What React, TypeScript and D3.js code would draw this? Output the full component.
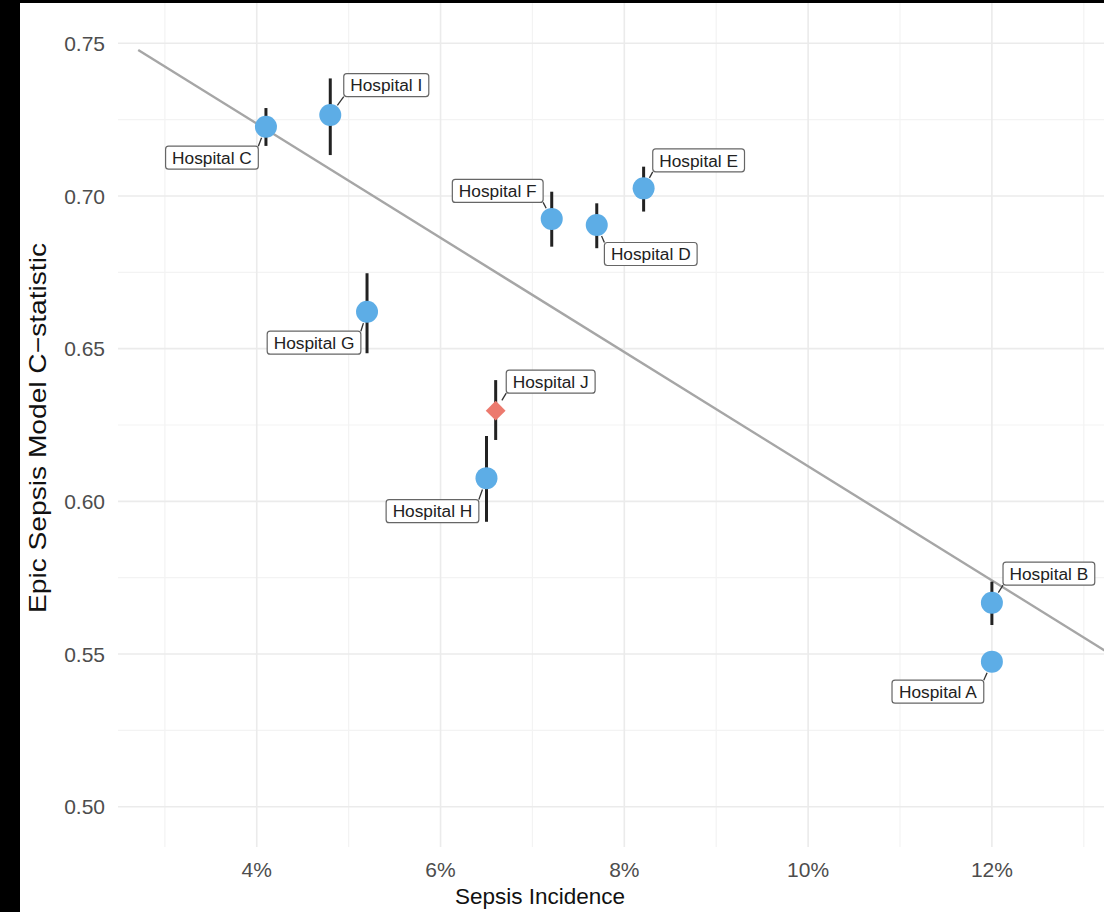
import React, { useMemo } from "react";
import * as d3 from "d3";

// ---- data ----
const hospitals = ["Hospital A", "Hospital B", "Hospital C", "Hospital D", "Hospital E", "Hospital F", "Hospital G", "Hospital H", "Hospital I", "Hospital J"];
const incidence = [12.0, 12.0, 4.1, 7.7, 8.21, 7.21, 5.2, 6.5, 4.8, 6.6];
const cstat = [0.5475, 0.5668, 0.7227, 0.6905, 0.7025, 0.6925, 0.6621, 0.6076, 0.7265, 0.6297];
const ciLow = [0.5445, 0.5595, 0.7164, 0.6829, 0.6949, 0.6834, 0.6485, 0.5933, 0.7134, 0.6201];
const ciHigh = [0.5505, 0.5737, 0.7288, 0.6976, 0.7096, 0.7014, 0.6747, 0.6214, 0.7385, 0.6397];
const highlighted = [false, false, false, false, false, false, false, false, false, true];

const xTicks = [4, 6, 8, 10, 12];
const xMinor = [3, 5, 7, 9, 11, 13];
const yTicks = [0.5, 0.55, 0.6, 0.65, 0.7, 0.75];
const yMinor = [0.525, 0.575, 0.625, 0.675, 0.725];

// fitted line: c = intercept + slope * incidence
const fitIntercept = 0.7985;
const fitSlope = -0.0187;
const fitRange = [2.71, 13.4];

// ---- layout (label box centre offsets in px from the point) ----
const labelDx = [-54, 57, -54, 54, 55, -54, -53, -54, 56, 55];
const labelDy = [30, -29, 31, 29, -28, -28, 31, 33, -30, -29];

const W = 1104;
const H = 912;
const panel = { left: 118, right: 1104, top: 3, bottom: 847 };
const xDomain = [2.49, 13.22];
const yDomain = [0.4868, 0.7632];

const LABEL_FONT = 17.3;
const FONT = "'Liberation Sans', Arial, Helvetica, sans-serif";

function measure(text: string, size: number) {
  if (typeof document === "undefined") return text.length * size * 0.5;
  const c = document.createElement("canvas").getContext("2d");
  if (!c) return text.length * size * 0.5;
  c.font = `${size}px ${FONT}`;
  return c.measureText(text).width;
}

export default function App() {
  const x = d3.scaleLinear().domain(xDomain).range([panel.left, panel.right]);
  const y = d3.scaleLinear().domain(yDomain).range([panel.bottom, panel.top]);
  const fmtY = d3.format(".2f");

  const labels = useMemo(
    () =>
      hospitals.map((h, i) => {
        const w = measure(h, LABEL_FONT) + 13;
        const hgt = 23;
        const px = x(incidence[i]);
        const py = y(cstat[i]);
        const cx = px + labelDx[i];
        const cy = py + labelDy[i];
        const bx0 = cx - w / 2,
          bx1 = cx + w / 2,
          by0 = cy - hgt / 2,
          by1 = cy + hgt / 2;
        const nx = Math.max(bx0, Math.min(px, bx1));
        const ny = Math.max(by0, Math.min(py, by1));
        const dx = nx - px,
          dy = ny - py;
        const dist = Math.sqrt(dx * dx + dy * dy);
        const r0 = 12;
        const seg =
          dist > r0
            ? { x1: px + (dx / dist) * r0, y1: py + (dy / dist) * r0, x2: nx, y2: ny }
            : null;
        return { h, w, hgt, cx, cy, seg };
      }),
    []
  );

  const linePath = d3
    .line<number>()
    .x((d) => x(d))
    .y((d) => y(fitIntercept + fitSlope * d))(fitRange);

  const diamond = d3.symbol().type(d3.symbolDiamond2).size(250)();

  return (
    <svg
      width={W}
      height={H}
      style={{ position: "absolute", left: 0, top: 0, background: "#fff" }}
      fontFamily={FONT}
    >
      <rect x={0} y={0} width={W} height={H} fill="#ffffff" />
      {/* grid */}
      {yMinor.map((t) => (
        <line key={"ym" + t} x1={panel.left} x2={panel.right} y1={y(t)} y2={y(t)} stroke="#f3f3f3" strokeWidth={1.2} />
      ))}
      {xMinor.map((t) => (
        <line key={"xm" + t} x1={x(t)} x2={x(t)} y1={panel.top} y2={panel.bottom} stroke="#f3f3f3" strokeWidth={1.2} />
      ))}
      {yTicks.map((t) => (
        <line key={"y" + t} x1={panel.left} x2={panel.right} y1={y(t)} y2={y(t)} stroke="#ebebeb" strokeWidth={1.6} />
      ))}
      {xTicks.map((t) => (
        <line key={"x" + t} x1={x(t)} x2={x(t)} y1={panel.top} y2={panel.bottom} stroke="#ebebeb" strokeWidth={1.6} />
      ))}

      {/* tick labels */}
      {yTicks.map((t) => (
        <text key={"yl" + t} x={105} y={y(t)} dy="0.36em" textAnchor="end" fontSize={21} fill="#4d4d4d">
          {fmtY(t)}
        </text>
      ))}
      {xTicks.map((t) => (
        <text key={"xl" + t} x={x(t)} y={877} textAnchor="middle" fontSize={21} fill="#4d4d4d">
          {t + "%"}
        </text>
      ))}

      {/* axis titles */}
      <text x={540} y={904} textAnchor="middle" fontSize={22.5} fill="#111">
        Sepsis Incidence
      </text>
      <text
        transform={`translate(46, 428) rotate(-90)`}
        textAnchor="middle"
        fontSize={24}
        textLength={370}
        lengthAdjust="spacingAndGlyphs"
        fill="#111"
      >
        Epic Sepsis Model C−statistic
      </text>

      {/* regression line */}
      <path d={linePath || ""} fill="none" stroke="#a6a6a6" strokeWidth={2.4} />

      {/* error bars */}
      {hospitals.map((h, i) => (
        <line
          key={"eb" + h}
          x1={x(incidence[i])}
          x2={x(incidence[i])}
          y1={y(ciLow[i])}
          y2={y(ciHigh[i])}
          stroke="#222"
          strokeWidth={3}
        />
      ))}

      {/* points */}
      {hospitals.map((h, i) =>
        highlighted[i] ? (
          <path
            key={"pt" + h}
            d={diamond || ""}
            transform={`translate(${x(incidence[i])},${y(cstat[i])})`}
            fill="#ec7a6e"
          />
        ) : (
          <circle key={"pt" + h} cx={x(incidence[i])} cy={y(cstat[i])} r={11} fill="#5dade6" />
        )
      )}

      {/* labels */}
      {labels.map((l) => (
        <g key={"lab" + l.h}>
          {l.seg && (
            <line x1={l.seg.x1} y1={l.seg.y1} x2={l.seg.x2} y2={l.seg.y2} stroke="#333" strokeWidth={1.3} />
          )}
          <rect
            x={l.cx - l.w / 2}
            y={l.cy - l.hgt / 2}
            width={l.w}
            height={l.hgt}
            rx={3}
            fill="#fff"
            stroke="#666"
            strokeWidth={1.2}
          />
          <text x={l.cx} y={l.cy} dy="0.36em" textAnchor="middle" fontSize={LABEL_FONT} fill="#222">
            {l.h}
          </text>
        </g>
      ))}

      {/* black frame strips */}
      <rect x={0} y={0} width={20} height={H} fill="#000" />
      <rect x={0} y={0} width={W} height={3} fill="#000" />
    </svg>
  );
}
